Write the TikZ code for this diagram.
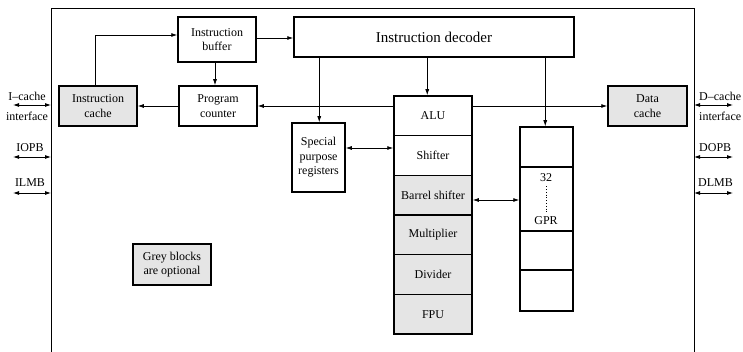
\documentclass[tikz,border=0pt]{standalone}
\usepackage{fontspec}
\setmainfont{Liberation Serif}
\usetikzlibrary{arrows.meta,calc}
\begin{document}
\begin{tikzpicture}[x=1pt,y=-1pt,
  blk/.style={draw,line width=1.5pt,inner sep=0pt,align=center,font=\fontsize{12}{14.5}\selectfont},
  opt/.style={blk,fill=black!10},
  tip/.tip={Latex[length=6pt,width=4pt]},
  conn/.style={line width=0.8pt,-tip},
  bi/.style={line width=0.8pt,tip-tip},
  lbl/.style={font=\fontsize{12}{14}\selectfont,inner sep=0pt}]
\useasboundingbox (0,0) rectangle (743,352);
% outer frame
\coordinate (fbl) at (51,362);
\coordinate (ftl) at (51,8);
\coordinate (ftr) at (694,8);
\coordinate (fbr) at (694,362);
\draw[line width=0.8pt] (fbl) -- (ftl) -- (ftr) -- (fbr);

% blocks
\node[blk,minimum width=78,minimum height=45] (ibuf) at (217,39.5) {Instruction\\buffer};
\node[blk,minimum width=280,minimum height=40,font=\fontsize{15}{17}\selectfont] (dec) at (434,37) {Instruction decoder};
\node[opt,minimum width=78,minimum height=40] (icache) at (98,106) {Instruction\\cache};
\node[blk,minimum width=78,minimum height=40] (pc) at (218,106) {Program\\counter};
\node[blk,minimum width=53,minimum height=69] (spr) at (318.5,157.5) {Special\\purpose\\registers};
\node[opt,minimum width=79,minimum height=40] (dcache) at (647.5,106) {Data\\cache};
\node[opt,minimum width=78,minimum height=41] (note) at (172,264.5) {Grey blocks\\are optional};

% execution units column
\node[blk,minimum width=78,minimum height=39.67] (alu) at (433,115.8) {ALU};
\node[blk,minimum width=78,minimum height=39.67] (shf) at (433,155.5) {Shifter};
\node[opt,minimum width=78,minimum height=39.67] (bsh) at (433,195.2) {Barrel shifter};
\node[opt,minimum width=78,minimum height=39.67] (mul) at (433,234.8) {Multiplier};
\node[opt,minimum width=78,minimum height=39.67] (div) at (433,274.5) {Divider};
\node[opt,minimum width=78,minimum height=39.67] (fpu) at (433,314.2) {FPU};

% GPR column
\node[blk,minimum width=53,minimum height=40] (g1) at (546.5,147) {};
\node[blk,minimum width=53,minimum height=64] (g2) at (546.5,199) {};
\node[blk,minimum width=53,minimum height=39] (g3) at (546.5,250.5) {};
\node[blk,minimum width=53,minimum height=41] (g4) at (546.5,290.5) {};
\node[lbl] (g32) at (546,178) {32};
\node[lbl] (ggpr) at (546,221) {GPR};
\coordinate (dt1) at ($(g32.south)+(0,4)$);
\coordinate (dt2) at ($(ggpr.north)+(0,-5)$);
\draw[line width=0.8pt,dotted] (dt1) -- (dt2);

% connector end points
\coordinate (icup) at ($(icache.north)+(-3,0)$);
\coordinate (ibin) at ($(ibuf.west)+(0,-4.5)$);
\coordinate (ibout) at ($(ibuf.east)+(0,-1.5)$);
\coordinate (ibdown) at ($(ibuf.south)+(-2,0)$);
\coordinate (aluw) at ($(alu.west)+(0,-9.8)$);
\coordinate (alue) at ($(alu.east)+(0,-9.8)$);
\coordinate (d1) at ($(dec.south west)+(26,0)$);
\coordinate (d2) at ($(dec.south west)+(134,0)$);
\coordinate (d3) at ($(dec.south west)+(252,0)$);
\coordinate (sprr) at ($(spr.east)+(0,-9.5)$);
\coordinate (bshr) at ($(bsh.east)+(0,4.8)$);

% connectors
\draw[conn] (icup) |- (ibin);
\draw[conn] (ibout) -- (ibout -| dec.west);
\draw[conn] (ibdown) -- (ibdown |- pc.north);
\draw[conn] (pc.west) -- (icache.east);
\draw[conn] (aluw) -- (aluw -| pc.east);
\draw[conn] (alue) -- (alue -| dcache.west);
\draw[conn] (d1) -- (d1 |- spr.north);
\draw[conn] (d2) -- (d2 |- alu.north);
\draw[conn] (d3) -- (d3 |- g1.north);
\draw[bi] (sprr) -- (sprr -| shf.west);
\draw[bi] (bshr) -- (bshr -| g2.west);

% side interfaces (left)
\coordinate (li1) at (13,105); \coordinate (lf1) at (ftl |- li1);
\coordinate (li2) at (13,157); \coordinate (lf2) at (ftl |- li2);
\coordinate (li3) at (13,193); \coordinate (lf3) at (ftl |- li3);
\draw[bi] (li1) -- (lf1);
\draw[bi] (li2) -- (lf2);
\draw[bi] (li3) -- (lf3);
\node[lbl] (lt1) at (27,96) {I--cache};
\node[lbl] (lt1b) at (27,116) {interface};
\node[lbl] (lt2) at (30,148) {IOPB};
\node[lbl] (lt3) at (30,183) {ILMB};

% side interfaces (right)
\coordinate (ri1) at (733,105); \coordinate (rf1) at (ftr |- ri1);
\coordinate (ri2) at (733,157); \coordinate (rf2) at (ftr |- ri2);
\coordinate (ri3) at (733,193); \coordinate (rf3) at (ftr |- ri3);
\draw[bi] (rf1) -- (ri1);
\draw[bi] (rf2) -- (ri2);
\draw[bi] (rf3) -- (ri3);
\node[lbl,anchor=west] (rt1) at (699,96) {D--cache};
\node[lbl,anchor=west] (rt1b) at (699,116) {interface};
\node[lbl,anchor=west] (rt2) at (699,148) {DOPB};
\node[lbl,anchor=west] (rt3) at (698,183) {DLMB};
\end{tikzpicture}
\end{document}
